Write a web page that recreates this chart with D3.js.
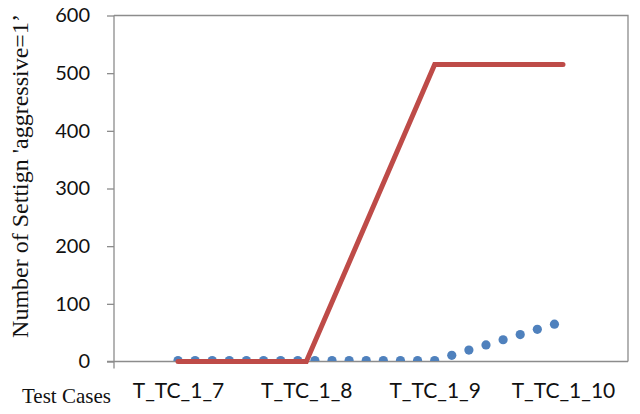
<!DOCTYPE html>
<html>
<head>
<meta charset="utf-8">
<script src="https://cdn.jsdelivr.net/npm/d3@7"></script>
<style>
  body { margin: 0; background: #fff; }
  svg { display: block; }
</style>
</head>
<body>
<svg id="canvas" width="640" height="414"></svg>
<script>
// chart data
let categories = ['T_TC_1_7', 'T_TC_1_8', 'T_TC_1_9', 'T_TC_1_10']
let redValues = [0, 0, 515, 515]
// blue dotted series: 23 points, 7.5 points per category step
let bluePoints = d3.range(23)
let blueValues = [0, 0, 0, 0, 0, 0, 0, 0, 0, 0, 0, 0, 0, 0, 0, 0, 9, 18, 27, 36, 45, 54, 63]
let yTicks = [0, 100, 200, 300, 400, 500, 600]

let plotLeft = 114, plotRight = 628, plotTop = 15.5, plotBottom = 361.5

let canvas = d3.select('#canvas')

let xCat = d3.scalePoint()
    .domain(categories)
    .range([178, 563])

// blue series sits on the same span, its last category step is 22.5 points
let xBlue = d3.scaleLinear()
    .domain([0, 22.5])
    .range([xCat(categories[0]), xCat(categories[3])])

let yScale = d3.scaleLinear()
    .domain([0, 600])
    .range([plotBottom, plotTop])

let grey = '#8c8c8c'

// frame
canvas.append('path')
    .attr('d', `M${plotLeft},${plotTop}H${plotRight}V${plotBottom}`)
    .attr('fill', 'none')
    .attr('stroke', grey)
    .attr('stroke-width', 1.3)

// y axis
let yAxis = d3.axisLeft(yScale)
    .tickValues(yTicks)
    .tickSize(7)
    .tickPadding(17)
    .tickFormat(d3.format('d'))

let yG = canvas.append('g')
    .attr('transform', `translate(${plotLeft},0)`)
    .call(yAxis)
yG.select('.domain').remove()
yG.selectAll('line').attr('stroke', grey).attr('stroke-width', 1.3)
yG.selectAll('text')
    .attr('fill', '#111')
    .style('font-family', 'Lato, "Open Sans", sans-serif')
    .style('font-size', '20px')

// axis lines
canvas.append('line')
    .attr('x1', plotLeft).attr('x2', plotLeft)
    .attr('y1', plotTop).attr('y2', plotBottom + 7)
    .attr('stroke', grey).attr('stroke-width', 1.3)
canvas.append('line')
    .attr('x1', plotLeft - 7).attr('x2', plotRight)
    .attr('y1', plotBottom).attr('y2', plotBottom)
    .attr('stroke', grey).attr('stroke-width', 1.5)

// x labels
let xAxis = d3.axisBottom(xCat).tickSize(0).tickPadding(22)
let xG = canvas.append('g')
    .attr('transform', `translate(0,${plotBottom})`)
    .call(xAxis)
xG.select('.domain').remove()
xG.selectAll('text')
    .attr('fill', '#111')
    .style('font-family', 'Lato, "Open Sans", sans-serif')
    .style('font-size', '21px')

// clip to plot area
canvas.append('clipPath').attr('id', 'plotClip')
    .append('rect')
    .attr('x', plotLeft).attr('y', plotTop)
    .attr('width', plotRight - plotLeft).attr('height', plotBottom - plotTop - 0.5)

// blue dots
canvas.append('g')
    .attr('clip-path', 'url(#plotClip)')
    .selectAll('circle')
    .data(bluePoints)
    .enter()
    .append('circle')
    .attr('cx', (i) => xBlue(i))
    .attr('cy', (i) => yScale(blueValues[i]) - 1)
    .attr('r', 4.6)
    .attr('fill', '#4f81bd')

// red line
let line = d3.line()
    .x((d, i) => xCat(categories[i]))
    .y((d) => yScale(d))

canvas.append('path')
    .datum(redValues)
    .attr('d', line)
    .attr('fill', 'none')
    .attr('stroke', '#be4b48')
    .attr('stroke-width', 5)
    .attr('stroke-linecap', 'round')
    .attr('stroke-linejoin', 'miter')

// titles
canvas.append('text')
    .attr('transform', 'translate(28,176) rotate(-90)')
    .attr('text-anchor', 'middle')
    .style('font-family', '"Liberation Serif", "Times New Roman", serif')
    .style('font-size', '24px')
    .attr('fill', '#111')
    .text('Number of Settign \'aggressive=1\u2019')

canvas.append('text')
    .attr('x', 22)
    .attr('y', 403)
    .style('font-family', '"Liberation Serif", "Times New Roman", serif')
    .style('font-size', '21px')
    .attr('fill', '#111')
    .text('Test Cases')
</script>
</body>
</html>
